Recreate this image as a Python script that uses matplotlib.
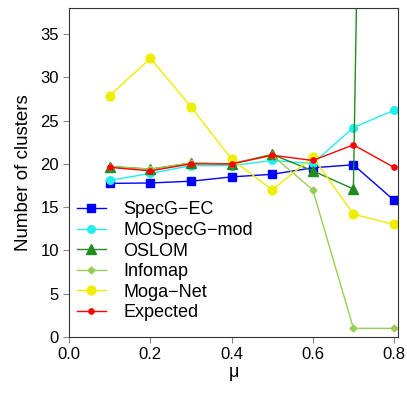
import numpy as np
import matplotlib
matplotlib.use('Agg')
import matplotlib.pyplot as plt

plt.rcParams['font.family'] = ['Liberation Sans', 'DejaVu Sans']

mu = [0.1, 0.2, 0.3, 0.4, 0.5, 0.6, 0.7, 0.8]

specg_ec = [17.75, 17.8, 18.0, 18.5, 18.8, 19.55, 19.9, 15.8]
mospecg_mod = [18.1, 18.9, 19.8, 19.8, 20.4, 20.05, 24.2, 26.2]
oslom = [19.7, 19.4, 20.1, 20.0, 21.1, 19.2, 17.1, 300.0]
infomap = [19.7, 19.4, 20.1, 20.0, 21.0, 17.0, 1.0, 1.0]
moga_net = [27.9, 32.2, 26.6, 20.55, 17.0, 20.8, 14.2, 13.0]
expected = [19.6, 19.2, 20.0, 20.0, 21.0, 20.4, 22.2, 19.6]

fig = plt.figure(figsize=(4.07, 4.07), dpi=100)
ax = fig.add_axes([0.17, 0.172, 0.808, 0.808])

ax.plot(mu, specg_ec, color='#0000ff', marker='s', ms=5.2, lw=1, label='SpecG\u2212EC')
ax.plot(mu, mospecg_mod, color='#22eeee', marker='o', ms=5.5, lw=1, label='MOSpecG\u2212mod')
ax.plot(mu, oslom, color='#228b22', marker='^', ms=6.5, lw=1, label='OSLOM')
ax.plot(mu, infomap, color='#9acd55', marker='D', ms=3.5, lw=1, label='Infomap')
ax.plot(mu, moga_net, color='#eeee00', marker='o', ms=6.3, lw=1, label='Moga\u2212Net')
ax.plot(mu, expected, color='#ff0000', marker='o', ms=3.8, lw=1, label='Expected')

ax.set_xlim(0, 0.81)
ax.set_ylim(0, 38)
ax.set_xticks([0.0, 0.2, 0.4, 0.6, 0.8])
ax.set_yticks([0, 5, 10, 15, 20, 25, 30, 35])
ax.tick_params(direction='out', length=4, color='#888888', labelsize=12)
for s in ax.spines.values():
    s.set_color('#333333')

ax.set_xlabel('\u03bc', fontsize=13, labelpad=1)
ax.set_ylabel('Number of clusters', fontsize=13.5, labelpad=6)

ax.legend(loc='lower left', bbox_to_anchor=(-0.005, 0.02), frameon=False, fontsize=13,
          handlelength=1.65, labelspacing=0.2, borderaxespad=0.2, borderpad=0.3,
          handletextpad=0.95)

fig.savefig('out.png')
